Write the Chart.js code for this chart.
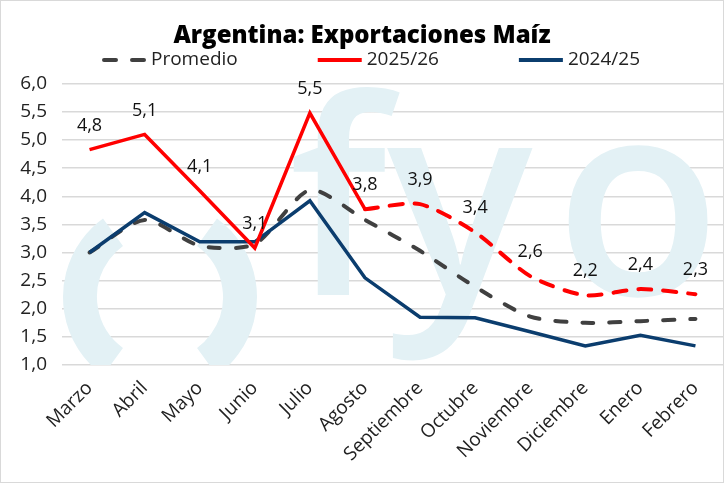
<!DOCTYPE html>
<html>
<head>
<meta charset="utf-8">
<script src="https://cdn.jsdelivr.net/npm/chart.js@4/dist/chart.umd.min.js"></script>
<style>
html,body{margin:0;padding:0;background:#fff;}
#wrap{position:relative;width:722px;height:481px;border:1px solid #d9d9d9;}
</style>
</head>
<body>
<div id="wrap"><canvas id="c"></canvas></div>
<script>
const categories = ["Marzo","Abril","Mayo","Junio","Julio","Agosto","Septiembre","Octubre","Noviembre","Diciembre","Enero","Febrero"];
const promedio = [3.0, 3.58, 3.12, 3.15, 4.11, 3.58, 3.03, 2.39, 1.86, 1.75, 1.78, 1.82];
const actual2526 = [4.83, 5.1, 4.1, 3.08, 5.48, 3.77, null, null, null, null, null, null];
const proy2526 = [null, null, null, null, null, 3.77, 3.86, 3.36, 2.58, 2.24, 2.35, 2.26];
const serie2425 = [3.0, 3.71, 3.19, 3.19, 3.92, 2.55, 1.85, 1.84, 1.59, 1.34, 1.53, 1.34];
const yTicks = [1.0, 1.5, 2.0, 2.5, 3.0, 3.5, 4.0, 4.5, 5.0, 5.5, 6.0];

const fmt = v => v.toFixed(1).replace('.', ',');
const FONT = '"Open Sans", sans-serif';
const WM = '#e3f1f5';

const watermark = {
  id: 'watermark',
  beforeDatasetsDraw(chart) {
    const ctx = chart.ctx;
    const a = chart.chartArea;
    ctx.save();
    ctx.beginPath();
    ctx.rect(a.left, 0, a.right - a.left, a.bottom);
    ctx.clip();
    ctx.strokeStyle = WM;
    ctx.fillStyle = WM;
    ctx.lineWidth = 34;
    ctx.beginPath();
    ctx.ellipse(159, 296, 80, 80, 0, Math.PI * 0.7, Math.PI * 1.3);
    ctx.stroke();
    ctx.beginPath();
    ctx.ellipse(159, 296, 80, 80, 0, -Math.PI * 0.3, Math.PI * 0.3);
    ctx.stroke();
    ctx.font = '600 272px ' + FONT;
    ctx.textBaseline = 'alphabetic';
    ctx.fillText('f', 288, 294);
    ctx.fillText('y', 386, 294);
    ctx.fillText('o', 554, 294);
    ctx.restore();
  }
};

const valueLabels = {
  id: 'valueLabels',
  afterDatasetsDraw(chart) {
    const ctx = chart.ctx;
    ctx.save();
    ctx.font = '18px ' + FONT;
    ctx.fillStyle = '#111';
    ctx.textAlign = 'center';
    ctx.textBaseline = 'middle';
    [1, 2].forEach(di => {
      const meta = chart.getDatasetMeta(di);
      const data = chart.data.datasets[di].data;
      meta.data.forEach((pt, i) => {
        const v = data[i];
        if (v == null) return;
        if (di === 2 && i === 5) return;
        ctx.fillText(fmt(v), pt.x, pt.y - 24);
      });
    });
    ctx.restore();
  }
};

const customLegend = {
  id: 'customLegend',
  afterDraw(chart) {
    const ctx = chart.ctx;
    const items = [0, 1, 3].map(i => chart.data.datasets[i]);
    ctx.save();
    ctx.font = '19px ' + FONT;
    ctx.textBaseline = 'middle';
    const box = 44, gapText = 5, gap = 80;
    let x = chart.chartArea.left + 40;
    const y = 59;
    items.forEach(ds => {
      ctx.strokeStyle = ds.borderColor;
      ctx.lineWidth = 4;
      ctx.lineCap = ds.borderDash ? 'round' : 'butt';
      ctx.setLineDash(ds.borderDash ? [12, 16] : []);
      ctx.beginPath();
      ctx.moveTo(x + (ds.borderDash ? 2 : 0), y);
      ctx.lineTo(x + box, y);
      ctx.stroke();
      ctx.setLineDash([]);
      ctx.fillStyle = '#222';
      ctx.fillText(ds.label, x + box + gapText, y);
      x += box + gapText + ctx.measureText(ds.label).width + gap;
    });
    ctx.restore();
  }
};

new Chart(document.getElementById('c'), {
  type: 'line',
  data: {
    labels: categories,
    datasets: [
      { label: 'Promedio', data: promedio, borderColor: '#404040', backgroundColor: '#404040',
        borderDash: [11, 16], borderCapStyle: 'round', borderWidth: 4, pointRadius: 0, tension: 0.25, order: 3 },
      { label: '2025/26', data: actual2526, borderColor: '#ff0000', backgroundColor: '#ff0000',
        borderWidth: 3.5, pointRadius: 0, tension: 0, order: 1 },
      { label: '2025/26 proy', data: proy2526, borderColor: '#ff0000', backgroundColor: '#ff0000',
        borderDash: [13, 12], borderCapStyle: 'round', borderWidth: 4, pointRadius: 0, tension: 0.25, order: 1 },
      { label: '2024/25', data: serie2425, borderColor: '#0b3d6e', backgroundColor: '#0b3d6e',
        borderWidth: 3.5, pointRadius: 0, tension: 0, order: 2 }
    ]
  },
  options: {
    responsive: true,
    maintainAspectRatio: false,
    animation: false,
    layout: { padding: { left: 0, right: 0, top: 0, bottom: 0 } },
    plugins: {
      title: { display: true, text: 'Argentina: Exportaciones Maíz', color: '#000',
        font: { family: FONT, size: 24, weight: 800 }, padding: { top: 21, bottom: 33 } },
      legend: { display: false },
      tooltip: { enabled: false }
    },
    scales: {
      x: {
        offset: true,
        grid: { display: false },
        border: { display: false },
        afterFit: axis => { axis.height = 117; },
        ticks: { color: '#222', font: { family: FONT, size: 19 }, minRotation: 45, maxRotation: 45, padding: 4 }
      },
      y: {
        min: 1, max: 6,
        afterBuildTicks: axis => { axis.ticks = yTicks.map(v => ({ value: v })); },
        afterFit: axis => { axis.width = 61; },
        grid: { color: '#d9d9d9', lineWidth: 1.5, drawTicks: false },
        border: { display: false },
        ticks: { color: '#222', font: { family: FONT, size: 19 }, padding: 15, callback: v => fmt(v) }
      }
    }
  },
  plugins: [watermark, valueLabels, customLegend]
});
</script>
</body>
</html>
